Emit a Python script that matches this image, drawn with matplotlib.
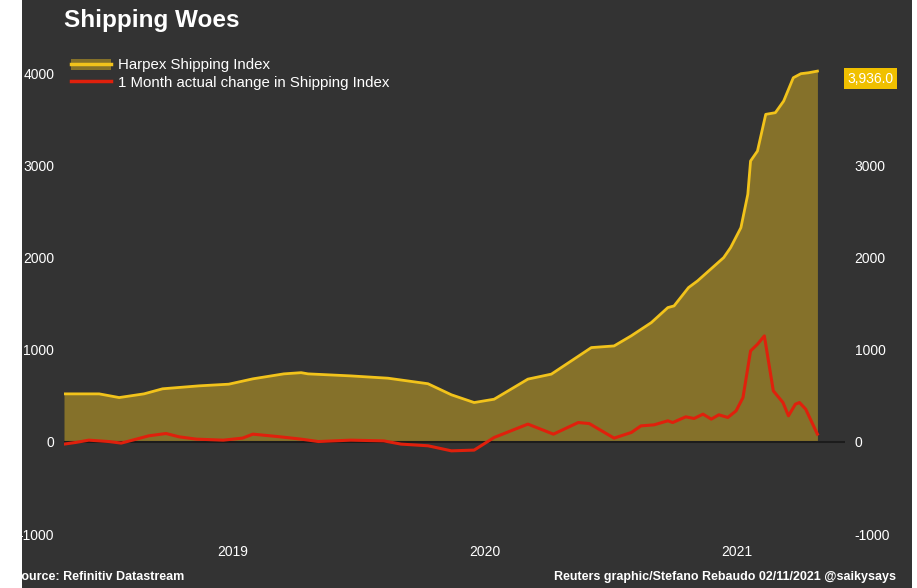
import pandas as pd
import matplotlib
matplotlib.use("Agg")
from matplotlib import pyplot as plt
from matplotlib.patches import Rectangle, Patch
from matplotlib.lines import Line2D
from matplotlib.legend_handler import HandlerTuple
from datetime import datetime

# Harpex shipping index
harpex_dates = ['2018-10-30', '2018-12-20', '2019-01-18', '2019-02-23', '2019-03-22',
                '2019-05-14', '2019-06-26', '2019-07-31', '2019-09-14', '2019-10-09',
                '2019-10-19', '2019-12-20', '2020-02-12', '2020-04-10', '2020-05-14',
                '2020-06-16', '2020-07-15', '2020-09-02', '2020-10-06', '2020-12-03',
                '2021-01-05', '2021-01-30', '2021-02-28', '2021-03-24', '2021-04-02',
                '2021-04-23', '2021-05-06', '2021-06-13', '2021-06-23', '2021-07-08',
                '2021-07-18', '2021-07-22', '2021-08-01', '2021-08-13', '2021-08-27',
                '2021-09-08', '2021-09-22', '2021-10-03', '2021-10-14', '2021-10-27']
harpex = [520, 520, 480, 520, 575,
          607, 625, 683, 737, 750,
          737, 715, 690, 630, 510,
          426, 462, 680, 734, 1022,
          1040, 1150, 1293, 1456, 1474,
          1673, 1745, 1998, 2106, 2323,
          2685, 3046, 3154, 3552, 3570,
          3696, 3949, 3993, 4003, 4021]

# 1 month actual change
change_dates = ['2018-10-30', '2018-11-16', '2018-12-05', '2019-01-03', '2019-01-21',
                '2019-02-12', '2019-03-02', '2019-03-27', '2019-04-15', '2019-05-10',
                '2019-06-18', '2019-07-16', '2019-07-31', '2019-09-05', '2019-10-09',
                '2019-11-03', '2019-12-20', '2020-02-06', '2020-03-02', '2020-04-10',
                '2020-05-14', '2020-06-16', '2020-07-15', '2020-09-02', '2020-10-09',
                '2020-11-14', '2020-11-30', '2021-01-05', '2021-01-30', '2021-02-13',
                '2021-03-04', '2021-03-24', '2021-03-31', '2021-04-19', '2021-05-01',
                '2021-05-14', '2021-05-26', '2021-06-06', '2021-06-19', '2021-07-01',
                '2021-07-11', '2021-07-22', '2021-08-01', '2021-08-11', '2021-08-24',
                '2021-09-07', '2021-09-15', '2021-09-25', '2021-10-01', '2021-10-10',
                '2021-10-27']
change = [-25, -7, 18, 3, -14,
          29, 65, 90, 54, 29,
          18, 40, 83, 57, 29,
          3, 18, 10, -25, -43,
          -98, -90, 47, 192, 83,
          209, 198, 40, 101, 173,
          184, 228, 209, 271, 253,
          300, 246, 293, 264, 336,
          480, 986, 1058, 1149, 553,
          426, 282, 408, 426, 354,
          83]

year_labels = ['2019', '2020', '2021']
last_label = '3,936.0'
last_value = 3936

bg = '#333333'
gold = '#F2C31B'
fill_col = '#85712A'
red = '#E0200C'

plt.rcParams['font.family'] = ['Liberation Sans', 'DejaVu Sans']
plt.rcParams['axes.unicode_minus'] = False

fig = plt.figure(figsize=(9.17, 5.88), dpi=100)
fig.patch.set_facecolor(bg)
ax = fig.add_axes([64 / 917, 1 - 534 / 588, (845 - 64) / 917, (534 - 50) / 588])
ax.set_facecolor('none')

hx = pd.to_datetime(harpex_dates)
cx = pd.to_datetime(change_dates)

ax.fill_between(hx, harpex, 0, color=fill_col, lw=0, zorder=1)
ax.plot(hx, harpex, color=gold, lw=2, zorder=3)
ax.axhline(0, color='#1c1c1c', lw=1.5, zorder=2)
ax.plot(cx, change, color=red, lw=2.2, zorder=4)

ax.set_xlim(datetime(2018, 10, 30), datetime(2021, 12, 6))
ax.set_ylim(-1000, 4250)
ax.set_yticks([-1000, 0, 1000, 2000, 3000, 4000])
ax.set_xticks([datetime(int(y), 7, 2) for y in year_labels])
ax.set_xticklabels(year_labels)

for s in ax.spines.values():
    s.set_visible(False)
ax.tick_params(axis='both', length=0, colors='white', labelsize=10)
ax.tick_params(axis='y', labelright=True, pad=7)
ax.tick_params(axis='x', pad=8)

# last value box
ax.annotate(last_label, xy=(1.0, last_value), xycoords=('axes fraction', 'data'),
            xytext=(2, 0), textcoords='offset points', ha='left', va='center',
            color='white', fontsize=10, zorder=10, annotation_clip=False,
            bbox=dict(boxstyle='square,pad=0.25', fc='#F0C000', ec='none'))

# legend
h1 = (Patch(facecolor=fill_col, edgecolor='none'), Line2D([], [], color=gold, lw=2.5))
h2 = Line2D([], [], color=red, lw=2.5)
leg = ax.legend([h1, h2], ['Harpex Shipping Index', '1 Month actual change in Shipping Index'],
                handler_map={tuple: HandlerTuple(ndivide=1)},
                loc='upper left', bbox_to_anchor=(60 / 917, 1 - 48 / 588),
                bbox_transform=fig.transFigure, frameon=False, fontsize=10.8,
                labelcolor='white', handlelength=2.7, handletextpad=0.45,
                labelspacing=0.2, borderpad=0.2)

fig.text(64 / 917, 1 - 20 / 588, 'Shipping Woes', color='white', fontsize=17.5,
         fontweight='bold', va='center', ha='left')
fig.text(13 / 917, 1 - 577 / 588, 'Source: Refinitiv Datastream', color='white',
         fontsize=9, va='center', ha='left', fontweight='bold')
fig.text(896 / 917, 1 - 577 / 588, 'Reuters graphic/Stefano Rebaudo 02/11/2021 @saikysays',
         color='white', fontsize=9, va='center', ha='right', fontweight='bold')

# white crop edges
fig.patches.append(Rectangle((0, 0), 22 / 917, 1, transform=fig.transFigure,
                             facecolor='white', edgecolor='none', zorder=10))
fig.patches.append(Rectangle((912 / 917, 0), 5 / 917, 1, transform=fig.transFigure,
                             facecolor='white', edgecolor='none', zorder=10))

fig.savefig('out.png', dpi=100, facecolor=fig.get_facecolor())
